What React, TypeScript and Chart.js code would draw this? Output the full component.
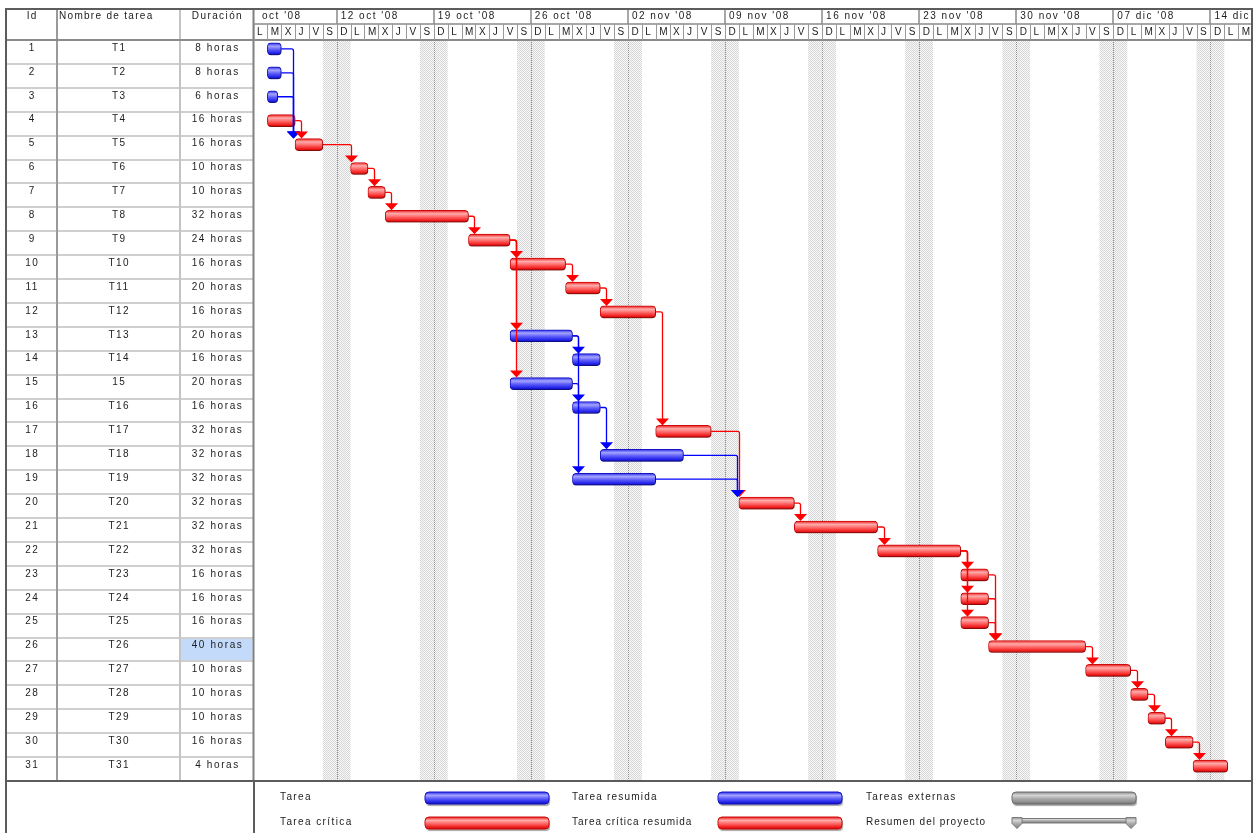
import { useEffect, useRef } from "react";
import { Chart, registerables } from "chart.js";

Chart.register(...registerables);

// ---------------- data ----------------
const taskIds = [1, 2, 3, 4, 5, 6, 7, 8, 9, 10, 11, 12, 13, 14, 15, 16, 17, 18, 19, 20, 21, 22, 23, 24, 25, 26, 27, 28, 29, 30, 31];
const taskNames = ["T1", "T2", "T3", "T4", "T5", "T6", "T7", "T8", "T9", "T10", "T11", "T12", "T13", "T14", "15", "T16", "T17", "T18", "T19", "T20", "T21", "T22", "T23", "T24", "T25", "T26", "T27", "T28", "T29", "T30", "T31"];
const durationLabels = ["8 horas", "8 horas", "6 horas", "16 horas", "16 horas", "10 horas", "10 horas", "32 horas", "24 horas", "16 horas", "20 horas", "16 horas", "20 horas", "16 horas", "20 horas", "16 horas", "32 horas", "32 horas", "32 horas", "32 horas", "32 horas", "32 horas", "16 horas", "16 horas", "16 horas", "40 horas", "10 horas", "10 horas", "10 horas", "16 horas", "4 horas"];
// positions in calendar days counted from Mon 06 oct 2008 (one 8-hour working day = one day column)
const taskStart = [1, 1, 1, 1, 3, 7, 8.25, 9.5, 15.5, 18.5, 22.5, 25, 18.5, 23, 18.5, 23, 29, 25, 23, 35, 39, 45, 51, 51, 51, 53, 60, 63.25, 64.5, 65.75, 67.75];
const taskFinish = [2, 2, 1.75, 3, 5, 8.25, 9.5, 15.5, 18.5, 22.5, 25, 29, 23, 25, 23, 25, 33, 31, 29, 39, 45, 51, 53, 53, 53, 60, 63.25, 64.5, 65.75, 67.75, 70.25];
const criticalTask = [false, false, false, true, true, true, true, true, true, true, true, true, false, false, false, false, true, false, false, true, true, true, true, true, true, true, true, true, true, true, true];
const linkFrom = [1, 2, 3, 4, 5, 6, 7, 8, 9, 9, 9, 10, 11, 12, 13, 13, 15, 16, 17, 18, 19, 20, 21, 22, 22, 22, 23, 24, 25, 26, 27, 28, 29, 30];
const linkTo = [5, 5, 5, 5, 6, 7, 8, 9, 10, 13, 15, 11, 12, 17, 14, 19, 16, 18, 20, 20, 20, 21, 22, 23, 24, 25, 26, 26, 26, 27, 28, 29, 30, 31];
const weekLabels = ["05 oct '08", "12 oct '08", "19 oct '08", "26 oct '08", "02 nov '08", "09 nov '08", "16 nov '08", "23 nov '08", "30 nov '08", "07 dic '08", "14 dic '08"];
const weekStartDay = [-1, 6, 13, 20, 27, 34, 41, 48, 55, 62, 69];
const dayLetters = ["D", "L", "M", "X", "J", "V", "S"]; // Sunday first
const columnHeaders = ["Id", "Nombre de tarea", "Duración"];
const legendLabels = ["Tarea", "Tarea crítica", "Tarea resumida", "Tarea crítica resumida", "Tareas externas", "Resumen del proyecto"];
const selectedDurationRow = 26;
const axisMinDay = 0;
const axisMaxDay = 72;

// ---------------- layout / style ----------------
const W = 1256;
const H = 833;
const LEFT = 6;
const COL_ID_R = 57;
const COL_NAME_R = 180;
const GANTT_L = 253.5;
const GANTT_R = 1252;
const TOP = 9;
const TIER_MID = 24;
const HEADER_B = 40;
const BODY_B = 781;
const ROW_SHIFT = 3;
const BAR_H = 12;
const FONT = '10px "Liberation Sans", Arial, sans-serif';
const TEXT = "#1c1c1c";

const STOPS: Record<string, [number, string][]> = {
  blue: [[0, "#2a2aee"], [0.28, "#a4a4ff"], [0.55, "#5d5dfa"], [0.85, "#2222e8"], [1, "#0c0cb0"]],
  red: [[0, "#ee1818"], [0.28, "#ffacac"], [0.55, "#ff6868"], [0.85, "#f01c1c"], [1, "#bf0808"]],
  gray: [[0, "#8a8a8a"], [0.28, "#d6d6d6"], [0.55, "#ababab"], [0.85, "#8c8c8c"], [1, "#6a6a6a"]],
};
const BORDER: Record<string, string> = { blue: "#1414c0", red: "#cc0c0c", gray: "#707070" };

function grad(ctx: CanvasRenderingContext2D, y: number, h: number, kind: string) {
  const g = ctx.createLinearGradient(0, y, 0, y + h);
  STOPS[kind].forEach(([o, c]) => g.addColorStop(o, c));
  return g;
}

function setFont(ctx: any, spacing = 1.4) {
  ctx.font = FONT;
  ctx.letterSpacing = spacing + "px";
  ctx.fillStyle = TEXT;
  ctx.textBaseline = "middle";
}

function drawText(ctx: any, s: string, x: number, y: number, align: "left" | "center", spacing = 1.4) {
  setFont(ctx, spacing);
  ctx.textAlign = "left";
  const w = ctx.measureText(s).width - spacing;
  const x0 = align === "center" ? x - w / 2 : x;
  ctx.fillText(s, x0, y);
}

function legendBar(ctx: CanvasRenderingContext2D, x0: number, x1: number, y: number, kind: string) {
  ctx.save();
  ctx.shadowColor = "rgba(0,0,0,0.35)";
  ctx.shadowOffsetX = 1;
  ctx.shadowOffsetY = 2;
  ctx.shadowBlur = 1;
  ctx.beginPath();
  (ctx as any).roundRect(x0, y, x1 - x0, BAR_H, 4);
  ctx.fillStyle = grad(ctx, y, BAR_H, kind);
  ctx.fill();
  ctx.shadowColor = "transparent";
  ctx.lineWidth = 1;
  ctx.strokeStyle = BORDER[kind];
  ctx.stroke();
  ctx.restore();
}

let weekendPattern: CanvasPattern | null = null;
function getPattern(ctx: CanvasRenderingContext2D) {
  if (!weekendPattern) {
    const c = document.createElement("canvas");
    c.width = 2;
    c.height = 2;
    const p = c.getContext("2d")!;
    p.fillStyle = "#f9f9f9";
    p.fillRect(0, 0, 2, 2);
    p.fillStyle = "#d6d6d6";
    p.fillRect(0, 0, 1, 1);
    p.fillRect(1, 1, 1, 1);
    weekendPattern = ctx.createPattern(c, "repeat");
  }
  return weekendPattern!;
}

const ganttPlugin = {
  id: "ganttFrame",
  beforeDraw(chart: any) {
    const ctx: CanvasRenderingContext2D = chart.ctx;
    const xs = chart.scales.x;
    const ys = chart.scales.y;
    const band = ys.getPixelForValue(1) - ys.getPixelForValue(0);
    const rowTop = (i: number) => ys.getPixelForValue(i) - band / 2 + ROW_SHIFT;
    const n = taskIds.length;
    const bodyTop = rowTop(0);
    const bodyBottom = rowTop(n - 1) + band;
    ctx.save();
    ctx.fillStyle = "#fff";
    ctx.fillRect(0, 0, W, H);

    // weekend shading
    ctx.save();
    ctx.beginPath();
    ctx.rect(GANTT_L, bodyTop, GANTT_R - GANTT_L, bodyBottom - bodyTop);
    ctx.clip();
    for (const ws of weekStartDay) {
      const a = xs.getPixelForValue(ws - 1);
      const b = xs.getPixelForValue(ws + 1);
      ctx.fillStyle = getPattern(ctx);
      ctx.fillRect(a, bodyTop, b - a, bodyBottom - bodyTop);
      const m = Math.round(xs.getPixelForValue(ws)) + 0.5;
      ctx.strokeStyle = "#8c8c8c";
      ctx.lineWidth = 1;
      ctx.setLineDash([1, 1]);
      ctx.beginPath();
      ctx.moveTo(m, bodyTop);
      ctx.lineTo(m, bodyBottom);
      ctx.stroke();
      ctx.setLineDash([]);
    }
    ctx.restore();

    // selected cell
    const sr = selectedDurationRow - 1;
    ctx.fillStyle = "#c3dafa";
    ctx.fillRect(COL_NAME_R + 1, rowTop(sr) + 1, GANTT_L - COL_NAME_R - 2, band - 2);

    // row separators in table
    ctx.strokeStyle = "#cfcfcf";
    ctx.lineWidth = 2;
    for (let i = 1; i < n; i++) {
      const y = Math.round(rowTop(i));
      ctx.beginPath();
      ctx.moveTo(LEFT, y);
      ctx.lineTo(GANTT_L, y);
      ctx.stroke();
    }
    // column separators
    const vline = (x: number, y0: number, y1: number, c: string, w = 2) => {
      ctx.strokeStyle = c;
      ctx.lineWidth = w;
      ctx.beginPath();
      ctx.moveTo(x, y0);
      ctx.lineTo(x, y1);
      ctx.stroke();
    };
    vline(COL_ID_R, TOP, bodyBottom, "#9a9a9a");
    vline(COL_NAME_R, TOP, bodyBottom, "#c4c4c4");
    vline(GANTT_L, TOP, bodyBottom, "#808080");

    // header separators
    ctx.strokeStyle = "#8a8a8a";
    ctx.lineWidth = 2;
    ctx.beginPath();
    ctx.moveTo(LEFT, HEADER_B);
    ctx.lineTo(GANTT_R, HEADER_B);
    ctx.stroke();
    ctx.lineWidth = 1.5;
    ctx.beginPath();
    ctx.moveTo(GANTT_L, TIER_MID);
    ctx.lineTo(GANTT_R, TIER_MID);
    ctx.stroke();

    // timescale header: day tier
    ctx.save();
    ctx.beginPath();
    ctx.rect(GANTT_L + 1, TOP, GANTT_R - GANTT_L - 1, HEADER_B - TOP);
    ctx.clip();
    for (let k = 0; k < weekStartDay.length; k++) {
      const x = xs.getPixelForValue(weekStartDay[k]);
      vline(Math.round(x), TOP, TIER_MID, "#8a8a8a", 1.5);
    }
    for (let d = axisMinDay - 1; d <= axisMaxDay; d++) {
      const x = xs.getPixelForValue(d);
      vline(Math.round(x) + 0.5, TIER_MID, HEADER_B, "#9a9a9a", 1);
      drawText(ctx, dayLetters[(((d + 1) % 7) + 7) % 7], x + 3.5, 32, "left", 0);
    }
    ctx.restore();

    // timescale header: week tier labels (clipped a little inside the cell)
    ctx.save();
    ctx.beginPath();
    ctx.rect(GANTT_L + 7, TOP, GANTT_R - GANTT_L - 7, TIER_MID - TOP);
    ctx.clip();
    for (let k = 0; k < weekStartDay.length; k++) {
      const x = xs.getPixelForValue(weekStartDay[k]);
      drawText(ctx, weekLabels[k], x + 4, 16, "left", 1.5);
    }
    ctx.restore();

    // table headers
    drawText(ctx, columnHeaders[0], (LEFT + COL_ID_R) / 2, 16, "center");
    drawText(ctx, columnHeaders[1], COL_ID_R + 2, 16, "left", 1.3);
    drawText(ctx, columnHeaders[2], (COL_NAME_R + GANTT_L) / 2, 16, "center");

    // table rows
    for (let i = 0; i < n; i++) {
      const y = rowTop(i) + 8;
      drawText(ctx, String(taskIds[i]), (LEFT + COL_ID_R) / 2, y, "center");
      drawText(ctx, taskNames[i], (COL_ID_R + COL_NAME_R) / 2, y, "center");
      drawText(ctx, durationLabels[i], (COL_NAME_R + GANTT_L) / 2, y, "center", 1.6);
    }
    ctx.restore();
  },
  beforeDatasetsDraw(chart: any) {
    const ctx = chart.ctx;
    ctx.save();
    ctx.shadowColor = "rgba(0,0,0,0.33)";
    ctx.shadowOffsetX = 1;
    ctx.shadowOffsetY = 2;
    ctx.shadowBlur = 1;
  },
  afterDatasetsDraw(chart: any) {
    const ctx: CanvasRenderingContext2D = chart.ctx;
    ctx.restore();
    const xs = chart.scales.x;
    const ys = chart.scales.y;
    ctx.save();
    for (let k = 0; k < linkFrom.length; k++) {
      const p = linkFrom[k] - 1;
      const s = linkTo[k] - 1;
      const x0 = xs.getPixelForValue(taskFinish[p]);
      const y0 = ys.getPixelForValue(p);
      const sx = xs.getPixelForValue(taskStart[s]);
      const sTop = ys.getPixelForValue(s) - BAR_H / 2;
      const ax = Math.round(Math.max(x0 + 6, sx - (criticalTask[p] ? 0 : 2))) + 0.5;
      const color = criticalTask[p] ? "#ff0000" : "#0000ff";
      ctx.strokeStyle = color;
      ctx.lineWidth = 1.3;
      ctx.beginPath();
      ctx.moveTo(x0, y0);
      ctx.lineTo(ax - 2, y0);
      ctx.quadraticCurveTo(ax, y0, ax, y0 + 2);
      ctx.lineTo(ax, sTop - 6);
      ctx.stroke();
      ctx.fillStyle = color;
      ctx.beginPath();
      ctx.moveTo(ax - 6.5, sTop - 7);
      ctx.lineTo(ax + 6.5, sTop - 7);
      ctx.lineTo(ax, sTop);
      ctx.closePath();
      ctx.fill();
    }
    ctx.restore();
  },
  afterDraw(chart: any) {
    const ctx: CanvasRenderingContext2D = chart.ctx;
    ctx.save();
    // legend
    const r1 = 797;
    const r2 = 822;
    drawText(ctx, legendLabels[0], 280, r1, "left");
    drawText(ctx, legendLabels[1], 280, r2, "left");
    drawText(ctx, legendLabels[2], 572, r1, "left", 1.2);
    drawText(ctx, legendLabels[3], 572, r2, "left", 1.0);
    drawText(ctx, legendLabels[4], 866, r1, "left", 1.3);
    drawText(ctx, legendLabels[5], 866, r2, "left", 1.0);
    legendBar(ctx, 425, 549, r1 - 5, "blue");
    legendBar(ctx, 425, 549, r2 - 5, "red");
    legendBar(ctx, 718, 842, r1 - 5, "blue");
    legendBar(ctx, 718, 842, r2 - 5, "red");
    legendBar(ctx, 1012, 1136, r1 - 5, "gray");
    // project summary symbol
    ctx.fillStyle = grad(ctx, 818, 5, "gray");
    ctx.strokeStyle = "#7a7a7a";
    ctx.lineWidth = 1;
    ctx.beginPath();
    ctx.rect(1016, 818.5, 114, 4.5);
    ctx.fill();
    ctx.stroke();
    const cap = (x: number) => {
      ctx.beginPath();
      ctx.moveTo(x, 817.5);
      ctx.lineTo(x + 10, 817.5);
      ctx.lineTo(x + 10, 823.5);
      ctx.lineTo(x + 5, 828.5);
      ctx.lineTo(x, 823.5);
      ctx.closePath();
      ctx.fillStyle = grad(ctx, 817, 12, "gray");
      ctx.fill();
      ctx.stroke();
    };
    cap(1012);
    cap(1126);

    // frame
    ctx.strokeStyle = "#5c5c5c";
    ctx.lineWidth = 2;
    ctx.beginPath();
    ctx.moveTo(LEFT, H);
    ctx.lineTo(LEFT, TOP);
    ctx.lineTo(GANTT_R, TOP);
    ctx.lineTo(GANTT_R, H);
    ctx.stroke();
    ctx.beginPath();
    ctx.moveTo(LEFT, BODY_B);
    ctx.lineTo(GANTT_R, BODY_B);
    ctx.stroke();
    ctx.beginPath();
    ctx.moveTo(254, BODY_B);
    ctx.lineTo(254, H);
    ctx.stroke();
    ctx.restore();
  },
};

function barFill(c: any) {
  const kind = criticalTask[c.dataIndex] ? "red" : "blue";
  const chart = c.chart;
  if (!chart.chartArea || !chart.scales?.y) return kind === "red" ? "#ff5050" : "#5050ff";
  const y = chart.scales.y.getPixelForValue(c.dataIndex) - BAR_H / 2;
  return grad(chart.ctx, y, BAR_H, kind);
}

export default function App() {
  const ref = useRef<HTMLCanvasElement>(null);
  useEffect(() => {
    const canvas = ref.current!;
    const chart = new Chart(canvas, {
      type: "bar",
      data: {
        labels: taskNames,
        datasets: [
          {
            data: taskStart.map((s, i) => [s, taskFinish[i]]) as any,
            backgroundColor: barFill as any,
            borderColor: ((c: any) => BORDER[criticalTask[c.dataIndex] ? "red" : "blue"]) as any,
            borderWidth: 1,
            borderRadius: 4,
            borderSkipped: false,
            barThickness: BAR_H,
          },
        ],
      },
      options: {
        indexAxis: "y",
        responsive: false,
        animation: false,
        devicePixelRatio: 1,
        layout: {
          padding: {
            left: GANTT_L,
            right: W - GANTT_R,
            top: HEADER_B - ROW_SHIFT,
            bottom: H - BODY_B + ROW_SHIFT,
          },
        },
        scales: {
          x: { type: "linear", min: axisMinDay, max: axisMaxDay, display: false },
          y: { type: "category", display: false, offset: true },
        },
        plugins: { legend: { display: false }, tooltip: { enabled: false } },
      },
      plugins: [ganttPlugin as any],
    });
    return () => chart.destroy();
  }, []);
  return (
    <div style={{ position: "fixed", left: 0, top: 0, width: W, height: H, background: "#fff" }}>
      <canvas ref={ref} width={W} height={H} style={{ display: "block" }} />
    </div>
  );
}
